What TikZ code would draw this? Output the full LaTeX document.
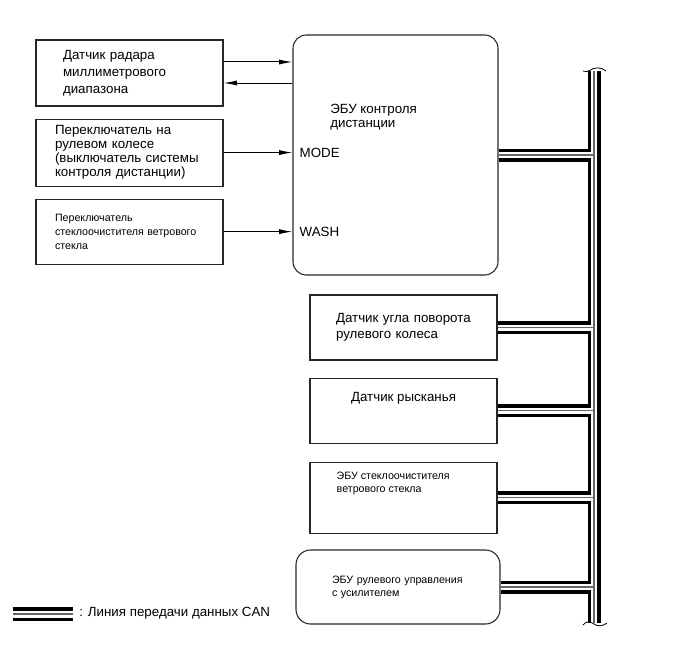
\documentclass[tikz,border=0pt]{standalone}
\usepackage{fontspec}
\setmainfont{Liberation Sans}
\usetikzlibrary{arrows.meta,positioning}

\begin{document}
\begin{tikzpicture}[x=0.75pt,y=-0.75pt,>={Latex[length=10pt,width=3.8pt]},
  every node/.style={font=\fontsize{10}{12}\selectfont}]
\tikzstyle{box}=[draw=black!85,line width=0.8pt,align=left,minimum width=140.25pt,inner ysep=0pt]
\tikzstyle{ecubox}=[box,rounded corners=10pt]
\tikzstyle{txt}=[inner sep=0pt,align=left]
\tikzstyle{sig}=[->,line width=0.75pt]
\useasboundingbox (0,0) rectangle (691,660);
% input side
\node[box,inner xsep=20.25pt,text width=99.75pt,minimum height=49.5pt,
  font=\fontsize{10}{12.75}\selectfont] (radar) at (129.5,73)
  {Датчик радара\\миллиметрового\\диапазона};
\node[box,inner xsep=14.25pt,text width=111.75pt,minimum height=50.25pt,
  font=\fontsize{10}{10.5}\selectfont,below=9pt of radar] (wheelsw)
  {Переключатель на\\рулевом колесе\\(выключатель системы\\контроля дистанции)};
\node[box,inner xsep=14.25pt,text width=111.75pt,minimum height=48.75pt,
  font=\fontsize{8}{10.5}\selectfont,below=9pt of wheelsw] (washsw)
  {Переключатель\\стеклоочистителя ветрового\\стекла};
% distance control ECU
\node[ecubox,minimum width=153.75pt,minimum height=180pt] (ecu) at (395.5,155) {};
\node[txt,anchor=west,font=\fontsize{10}{10.5}\selectfont] (ecutxt) at (330,117)
  {ЭБУ контроля\\дистанции};
\node[txt,anchor=west] (mode) at ([xshift=5.25pt]wheelsw.east -| ecu.west) {MODE};
\node[txt,anchor=west] (wash) at ([xshift=5.25pt]washsw.east -| ecu.west) {WASH};
\draw[sig] ([yshift=8.25pt]radar.east) -- ([yshift=8.25pt]radar.east -| ecu.west);
\draw[sig] ([yshift=-7.5pt]radar.east -| ecu.west) -- ([yshift=-7.5pt]radar.east);
\draw[sig] (wheelsw.east) -- (wheelsw.east -| ecu.west);
\draw[sig] (washsw.east) -- (washsw.east -| ecu.west);
% CAN side
\node[box,inner xsep=19.5pt,text width=101.25pt,minimum height=48.75pt] (steer) at (403.5,327.5)
  {Датчик угла поворота\\рулевого колеса};
\node[box,minimum height=48.75pt,below=12.75pt of steer] (yaw) {};
\node[txt] (yawtxt) at ([yshift=-15.75pt]yaw.north) {Датчик рысканья};
\node[box,minimum height=53.25pt,below=13.5pt of yaw] (wiperecu) {};
\node[txt,anchor=west,font=\fontsize{8}{9.75}\selectfont] (wipertxt)
  at ([xshift=20.25pt,yshift=10.5pt]wiperecu.west) {ЭБУ стеклоочистителя\\ветрового стекла};
\node[ecubox,rounded corners=11pt,inner xsep=27pt,text width=99pt,minimum width=153pt,
  minimum height=55.5pt,font=\fontsize{8}{9.75}\selectfont] (eps) at (398,587)
  {ЭБУ рулевого управления\\с усилителем};
\coordinate (bustop) at (594,71);
\coordinate (busbot) at (594,623);
\foreach \w/\c in {9.75pt/black,4.5pt/white,0.8pt/black!60}{
  \draw[line width=\w,draw=\c] (bustop) -- (busbot)
    (ecu.east) -- (ecu.east -| bustop)
    (steer.east) -- (steer.east -| bustop)
    (yaw.east) -- (yaw.east -| bustop)
    (wiperecu.east) -- (wiperecu.east -| bustop)
    (eps.east) -- (eps.east -| bustop);
}
% break marks
\draw[line width=0.6pt] (583,71) .. controls (588,74) and (592,67) .. (597,68)
  .. controls (601,68) and (604,69) .. (606,71);
\draw[line width=0.6pt] (583,625) .. controls (586,621) and (590,621) .. (594,624)
  .. controls (598,627) and (603,626) .. (607,623);
% legend
\coordinate (lgA) at (13,614);
\coordinate (lgB) at (73,614);
\foreach \w/\c in {10.5pt/black,5.25pt/white,0.8pt/black!60}{
  \draw[line width=\w,draw=\c] (lgA) -- (lgB);
}
\node[txt,anchor=west] (lgtxt) at (79,613) {: Линия передачи данных CAN};
\end{tikzpicture}
\end{document}
